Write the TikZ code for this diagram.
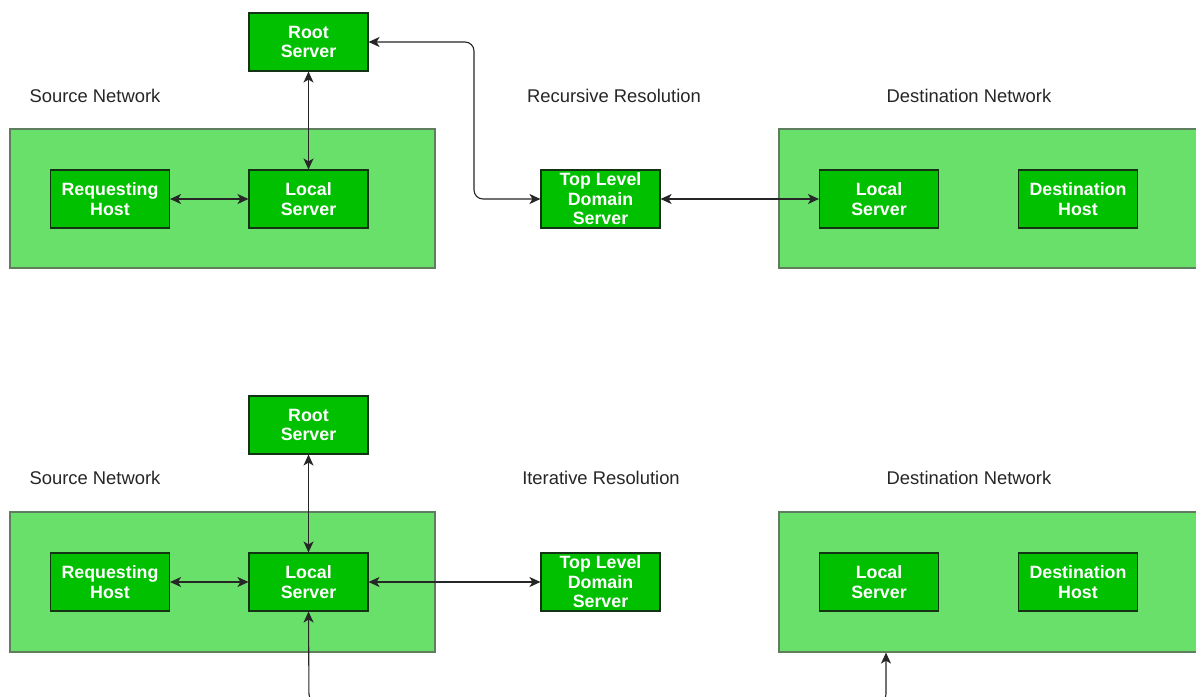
\documentclass[tikz,border=0pt]{standalone}
\usepackage{fontspec}
\setmainfont{Liberation Sans}
\usetikzlibrary{arrows.meta}
\definecolor{netfill}{RGB}{104,224,106}
\definecolor{netdraw}{RGB}{95,125,95}
\definecolor{srvfill}{RGB}{0,192,0}
\definecolor{srvdraw}{RGB}{20,50,20}
\begin{document}
\begin{tikzpicture}[x=1pt,y=-1pt,
  net/.style={draw=netdraw,fill=netfill,line width=1.2pt,inner sep=0pt},
  srv/.style={draw=srvdraw,fill=srvfill,line width=1.1pt,minimum width=119pt,minimum height=58pt,inner sep=0pt,
    align=center,text=white,font=\fontsize{17.8}{19.5}\selectfont\bfseries},
  lbl/.style={font=\fontsize{18.4}{20}\selectfont,text=black!85,inner sep=0pt},
  tip/.style={},
  conn/.style={line width=1.1pt,black!85,{Stealth[length=11pt,width=10pt,inset=3pt]}-{Stealth[length=11pt,width=10pt,inset=3pt]}},
  conr/.style={conn,rounded corners=9pt}]
\useasboundingbox (0,0) rectangle (1196,696);
\clip (0,0) rectangle (1196,696);
\fill[white] (0,0) rectangle (1196,696);

% ---------- top: recursive ----------
\node[net,minimum width=425pt,minimum height=139pt] (snet1) at (222.5,198.5) {};
\node[net,minimum width=425pt,minimum height=139pt] (dnet1) at (991.5,198.5) {};
\node[lbl] (sl1) at (95,96) {Source Network};
\node[lbl] (rl1) at (614,96) {Recursive Resolution};
\node[lbl] (dl1) at (969,96) {Destination Network};

\node[srv] (root1) at (308.5,42) {Root\\Server};
\node[srv] (req1) at (110,199) {Requesting\\Host};
\node[srv] (loc1) at (308.5,199) {Local\\Server};
\node[srv] (tld1) at (600.5,199) {Top Level\\Domain\\Server};
\node[srv] (dloc1) at (879,199) {Local\\Server};
\node[srv] (dh1) at (1078,199) {Destination\\Host};

\draw[conn] (root1) -- (loc1);
\draw[conn] (req1) -- (loc1);
\draw[conr] (root1.east) -- (474,42) -- (474,199) -- (tld1.west);
\draw[conn] (tld1) -- (dloc1);

% ---------- bottom: iterative ----------
\node[net,minimum width=425pt,minimum height=140pt] (snet2) at (222.5,582) {};
\node[net,minimum width=425pt,minimum height=140pt] (dnet2) at (991.5,582) {};
\node[lbl] (sl2) at (95,478) {Source Network};
\node[lbl] (il2) at (601,478) {Iterative Resolution};
\node[lbl] (dl2) at (969,478) {Destination Network};

\node[srv] (root2) at (308.5,425) {Root\\Server};
\node[srv] (req2) at (110,582) {Requesting\\Host};
\node[srv] (loc2) at (308.5,582) {Local\\Server};
\node[srv] (tld2) at (600.5,582) {Top Level\\Domain\\Server};
\node[srv] (dloc2) at (879,582) {Local\\Server};
\node[srv] (dh2) at (1078,582) {Destination\\Host};

\draw[conn] (root2) -- (loc2);
\draw[conn] (req2) -- (loc2);
\draw[conn] (loc2) -- (tld2);
\coordinate (b1) at (309,703);
\coordinate (b2) at (886,703);
\draw[conr] (loc2.south) -- (b1) -- (b2) -- (dnet2.south -| b2);
\end{tikzpicture}
\end{document}
